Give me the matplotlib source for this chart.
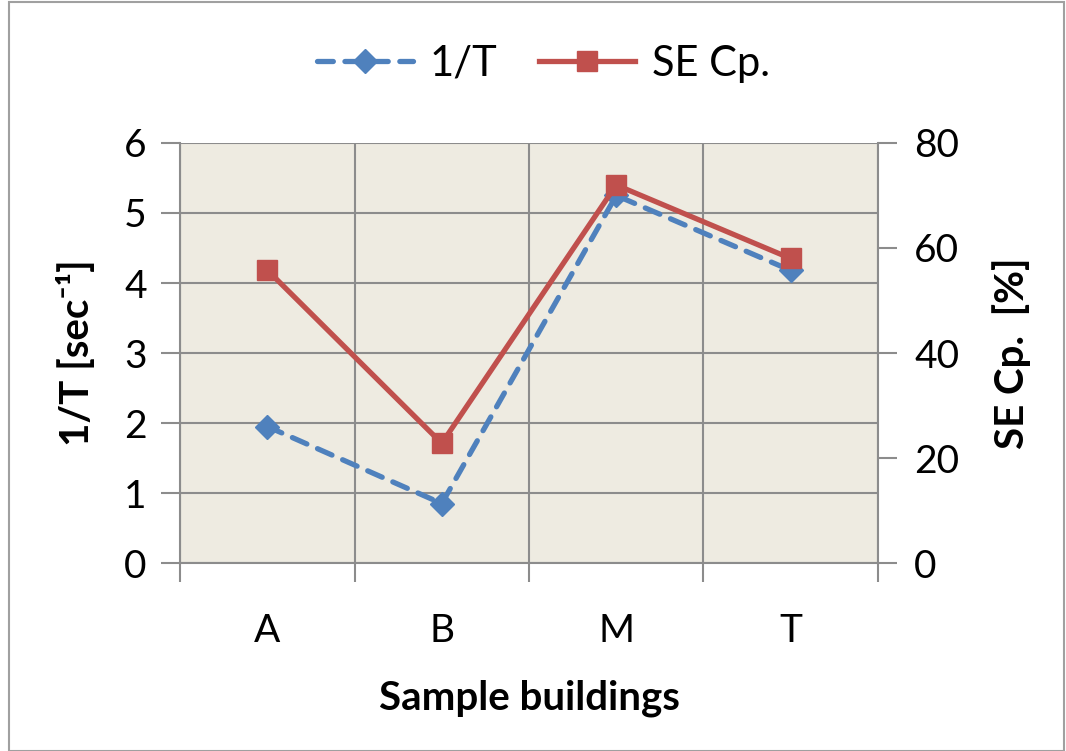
#1/T and SE Cp. for sample buildings
import numpy as np
import matplotlib.pyplot as plt
from matplotlib.patches import Rectangle

plt.rcParams['font.family'] = ['Lato', 'DejaVu Sans']

#data
buildings = ['A', 'B', 'M', 'T']
invT = [1.95, 0.85, 5.25, 4.18]
seCp = [55.8, 22.8, 72.0, 58.0]

blue = '#4F81BD'
red = '#C0504D'
grid = '#8C8C8C'

fig = plt.figure(figsize=(10.66, 7.51), dpi=100)
fig.patches.append(Rectangle((0.008, 0.0), 0.99, 0.998, transform=fig.transFigure,
                             fill=False, edgecolor='#A0A0A0', linewidth=1.5))
ax = fig.add_axes([0.1689, 0.2503, 0.6547, 0.5593])
ax.set_facecolor('#EEEBE1')
x = np.arange(len(buildings))

l1, = ax.plot(x, invT, color=blue, linestyle=(0, (3.0, 2.2)), linewidth=3.8,
              dash_capstyle='round', marker='D', markersize=12, label='1/T', zorder=3)
ax.set_xlim(-0.5, 3.5)
ax.set_ylim(0, 6)
ax.set_yticks(range(0, 7))
ax.set_xticks(x)
ax.set_xticklabels(buildings)
ax.set_xticks(np.arange(-0.5, 4, 1), minor=True)
ax.tick_params(axis='x', which='major', length=0, pad=36, labelsize=28)
ax.tick_params(axis='x', which='minor', length=14, width=1.5, color=grid)
ax.tick_params(axis='y', length=14, width=1.5, color=grid, labelsize=28, pad=10)
ax.grid(axis='y', color=grid, linewidth=1.5)
ax.grid(axis='x', which='minor', color=grid, linewidth=1.5)
ax.set_axisbelow(True)
for s in ax.spines.values():
    s.set_color(grid)
    s.set_linewidth(1.5)
ax.spines['top'].set_visible(False)
ax.set_ylabel('1/T [sec\u207b\u00b9]', fontsize=29, fontweight='bold', labelpad=20)
ax.set_xlabel('Sample buildings', fontsize=29, fontweight='bold', labelpad=22)

ax2 = ax.twinx()
l2, = ax2.plot(x, seCp, color=red, linewidth=3.8, marker='s', markersize=15,
               label='SE Cp.', zorder=3)
ax2.set_ylim(0, 80)
ax2.set_yticks(range(0, 81, 20))
ax2.tick_params(axis='y', length=14, width=1.5, color=grid, labelsize=28, pad=12)
for s in ax2.spines.values():
    s.set_visible(False)
ax2.set_ylabel('SE Cp.  [%]', fontsize=29, fontweight='bold', labelpad=24)

fig.legend(handles=[l1, l2], loc='center', bbox_to_anchor=(0.51, 0.915), ncol=2,
           frameon=False, fontsize=30, handlelength=2.3, columnspacing=1.0,
           handletextpad=0.4)

plt.savefig('out.png')
